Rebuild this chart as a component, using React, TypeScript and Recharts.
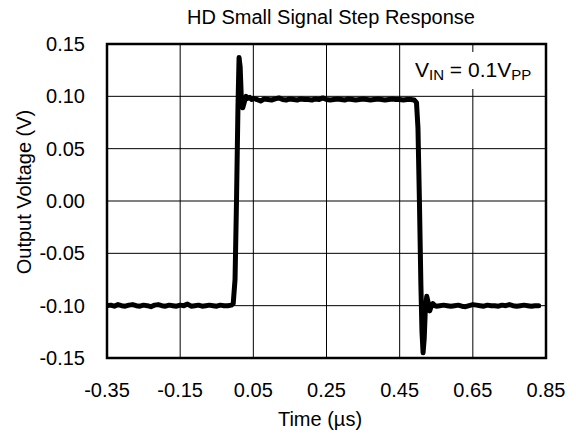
import React from "react";
import { LineChart, Line, XAxis, YAxis, CartesianGrid, ReferenceArea } from "recharts";

const xTicks = [-0.35, -0.15, 0.05, 0.25, 0.45, 0.65, 0.85];
const yTicks = [-0.15, -0.1, -0.05, 0, 0.05, 0.1, 0.15];

const timeUs = [
  -0.35, -0.34, -0.33, -0.32, -0.31, -0.3, -0.29, -0.28, -0.27, -0.26, -0.25, -0.24, -0.23, -0.22, -0.21,
  -0.2, -0.19, -0.18, -0.17, -0.16, -0.15, -0.14, -0.13, -0.12, -0.11, -0.1, -0.09, -0.08, -0.07, -0.06,
  -0.05, -0.04, -0.03, -0.02, -0.01, -0.005, 0.0, 0.004, 0.008, 0.011, 0.014, 0.017, 0.021, 0.025, 0.03,
  0.035, 0.04, 0.045, 0.05, 0.06, 0.07, 0.08, 0.09, 0.1, 0.11, 0.12, 0.13, 0.14, 0.15, 0.16, 0.17, 0.18,
  0.19, 0.2, 0.21, 0.22, 0.23, 0.24, 0.25, 0.26, 0.27, 0.28, 0.29, 0.3, 0.31, 0.32, 0.33, 0.34, 0.35,
  0.36, 0.37, 0.38, 0.39, 0.4, 0.41, 0.42, 0.43, 0.44, 0.45, 0.46, 0.47, 0.48, 0.49, 0.496, 0.5, 0.504,
  0.508, 0.511, 0.514, 0.517, 0.52, 0.524, 0.528, 0.532, 0.536, 0.541, 0.546, 0.55, 0.56, 0.57, 0.58, 0.59,
  0.6, 0.61, 0.62, 0.63, 0.64, 0.65, 0.66, 0.67, 0.68, 0.69, 0.7, 0.71, 0.72, 0.73, 0.74, 0.75, 0.76, 0.77,
  0.78, 0.79, 0.8, 0.81, 0.82, 0.83, 0.84, 0.85,
];

const outputV = [
  -0.1, -0.0995, -0.1005, -0.099, -0.1, -0.1005, -0.0995, -0.099, -0.1, -0.1005, -0.0995, -0.1, -0.101, -0.0995, -0.099,
  -0.1, -0.1005, -0.0995, -0.1, -0.1005, -0.0995, -0.1, -0.0985, -0.1005, -0.1, -0.0995, -0.1005, -0.1, -0.0995, -0.1,
  -0.1005, -0.0995, -0.1, -0.1, -0.0995, -0.098, -0.075, 0.0, 0.09, 0.137, 0.128, 0.1, 0.089, 0.094, 0.1,
  0.098, 0.099, 0.097, 0.098, 0.097, 0.0955, 0.0975, 0.097, 0.0965, 0.0975, 0.0985, 0.097, 0.0965, 0.0975, 0.097,
  0.0965, 0.0975, 0.097, 0.097, 0.0965, 0.0975, 0.097, 0.0985, 0.097, 0.0965, 0.097, 0.0975, 0.097, 0.0965, 0.0975,
  0.097, 0.0965, 0.097, 0.0975, 0.097, 0.0965, 0.097, 0.0975, 0.097, 0.0965, 0.097, 0.0975, 0.097, 0.097, 0.0965,
  0.097, 0.097, 0.0965, 0.094, 0.07, 0.0, -0.08, -0.125, -0.145, -0.132, -0.105, -0.091, -0.097, -0.105, -0.101,
  -0.098, -0.1, -0.1005, -0.1, -0.0995, -0.1, -0.1005, -0.1, -0.0995, -0.1005, -0.101, -0.1, -0.099, -0.0995, -0.1,
  -0.1005, -0.0995, -0.1, -0.1, -0.1005, -0.0995, -0.1, -0.099, -0.1, -0.1005, -0.1, -0.0995, -0.1, -0.1005, -0.1,
  -0.1,
];

const data = timeUs.map((t, i) => ({ t, v: outputV[i] }));

const FONT = "'Liberation Sans', Arial, sans-serif";
const fmt = (v: number) => v.toFixed(2);

export default function App() {
  return (
    <div style={{ position: "absolute", left: 0, top: 0, width: 576, height: 434, background: "#fff", fontFamily: FONT }}>
      <LineChart
        width={576}
        height={434}
        data={data}
        margin={{ top: 44, right: 30, bottom: 0, left: 0 }}
        style={{ fontFamily: FONT }}
      >
        <CartesianGrid stroke="#000" strokeWidth={1} />
        <XAxis
          dataKey="t"
          type="number"
          domain={[-0.35, 0.85]}
          ticks={xTicks}
          tickFormatter={fmt}
          tickLine={false}
          axisLine={false}
          tickMargin={19}
          tick={{ fill: "#000", fontSize: 20 }}
          height={76}
          interval={0}
          allowDataOverflow
        />
        <YAxis
          type="number"
          domain={[-0.15, 0.15]}
          ticks={yTicks}
          tickFormatter={fmt}
          tickLine={false}
          axisLine={false}
          tickMargin={16}
          tick={{ fill: "#000", fontSize: 20 }}
          width={107}
          interval={0}
          allowDataOverflow
        />
        <ReferenceArea
          x1={-0.35}
          x2={0.85}
          y1={-0.15}
          y2={0.15}
          fill="none"
          stroke="#000"
          strokeWidth={2.5}
          ifOverflow="visible"
        />
        <Line
          dataKey="v"
          stroke="#000"
          strokeWidth={5}
          strokeLinejoin="round"
          strokeLinecap="round"
          dot={false}
          isAnimationActive={false}
          type="linear"
        />
      </LineChart>
      <div style={{ position: "absolute", left: 0, width: 576, paddingLeft: 86, boxSizing: "border-box", top: 5, textAlign: "center", fontSize: 20, lineHeight: "24px", color: "#000", whiteSpace: "nowrap" }}>
        HD Small Signal Step Response
      </div>
      <div style={{ position: "absolute", left: 100, width: 440, top: 407, textAlign: "center", fontSize: 20, lineHeight: "24px", color: "#000" }}>
        Time (µs)
      </div>
      <div style={{ position: "absolute", left: 24, top: 192, width: 0, height: 0 }}>
        <div style={{ position: "absolute", left: -150, top: -12, width: 300, textAlign: "center", fontSize: 20, lineHeight: "24px", transform: "rotate(-90deg)", color: "#000", whiteSpace: "nowrap" }}>
          Output Voltage (V)
        </div>
      </div>
      <div style={{ position: "absolute", left: 405, top: 52, width: 139, height: 37, background: "#fff", fontSize: 21, lineHeight: "36px", color: "#000", paddingLeft: 10, boxSizing: "border-box", whiteSpace: "nowrap" }}>
        V<sub style={{ fontSize: 15, verticalAlign: "-3px" }}>IN</sub> = 0.1V<sub style={{ fontSize: 15, verticalAlign: "-3px" }}>PP</sub>
      </div>
    </div>
  );
}
